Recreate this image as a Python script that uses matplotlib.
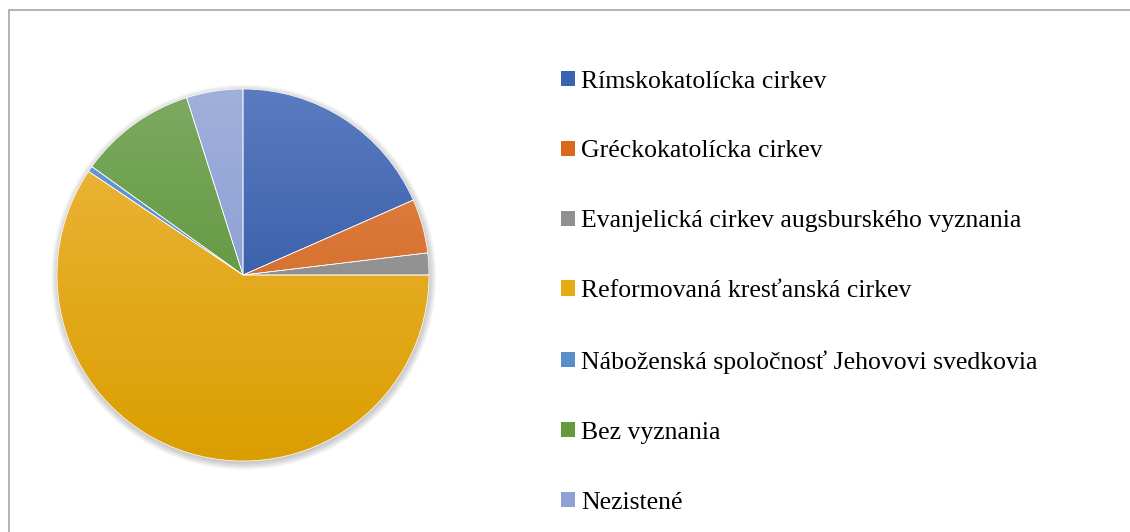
import numpy as np
import matplotlib
matplotlib.use("Agg")
import matplotlib.pyplot as plt
from matplotlib.patches import Rectangle, Circle
from matplotlib.colors import LinearSegmentedColormap

# ---- data ----
categories = [
    "Rímskokatolícka cirkev",
    "Gréckokatolícka cirkev",
    "Evanjelická cirkev augsburského vyznania",
    "Reformovaná kresťanská cirkev",
    "Náboženská spoločnosť Jehovovi svedkovia",
    "Bez vyznania",
    "Nezistené",
]
shares = [18.4, 4.7, 1.9, 59.4, 0.5, 10.2, 4.9]

# ---- style ----
top_colors = ["#5A7BC0", "#E8894E", "#B0B0B0", "#EDB842", "#6A9CD5", "#7DAA62", "#A0B0DC"]
bot_colors = ["#20499A", "#C45A14", "#707070", "#DB9E00", "#4A80BD", "#4F8A25", "#7B92CC"]
mid_colors = ["#3A62B0", "#D8691F", "#909090", "#E6AA12", "#5A8EC9", "#659B3D", "#8EA2D4"]

W, H = 1130, 532
fig = plt.figure(figsize=(W / 100, H / 100), dpi=100)
fig.patch.set_facecolor("white")

# chart frame (left/top visible)
fig.add_artist(Rectangle((8.5 / W, -0.1), 2, (H - 10) / H + 0.1,
                         transform=fig.transFigure, fill=False,
                         edgecolor="#A6A6A6", lw=1.2))

cx, cy, r = 243, 275, 186
ax = fig.add_axes([(cx - r) / W, (H - cy - r) / H, 2 * r / W, 2 * r / H])
ax.set_aspect("equal")
ax.axis("off")

# soft shadow
for rr in np.linspace(1.0, 1.035, 7):
    ax.add_patch(Circle((0.004, -0.012), rr, facecolor="black",
                        alpha=0.03, edgecolor="none", zorder=0, clip_on=False))

wedges, _ = ax.pie(shares, colors=mid_colors, startangle=90, counterclock=False,
                   radius=1, wedgeprops=dict(edgecolor="white", linewidth=0.5))

grad = np.linspace(0, 1, 256).reshape(-1, 1)
for w, tc, bc in zip(wedges, top_colors, bot_colors):
    cmap = LinearSegmentedColormap.from_list("g", [tc, bc])
    im = ax.imshow(grad, cmap=cmap, extent=[-1, 1, -1, 1], origin="upper",
                   aspect="auto", zorder=2.5, interpolation="bilinear")
    im.set_clip_path(w)
for w in wedges:
    w.set_facecolor("none")
    w.set_zorder(3)
ax.set_xlim(-1.0, 1.0)
ax.set_ylim(-1.0, 1.0)

# legend
handles = [Rectangle((0, 0), 1, 1, facecolor=c, edgecolor="none") for c in mid_colors]
fig.legend(handles, categories, loc="upper left",
           bbox_to_anchor=(561 / W, 1 - 70.5 / H),
           frameon=False, prop={"family": "Liberation Serif", "size": 18.55},
           handlelength=0.545, handleheight=0.545, handletextpad=0.24,
           labelspacing=1.86, borderpad=0, borderaxespad=0)

fig.savefig("out.png", dpi=100, facecolor="white")
